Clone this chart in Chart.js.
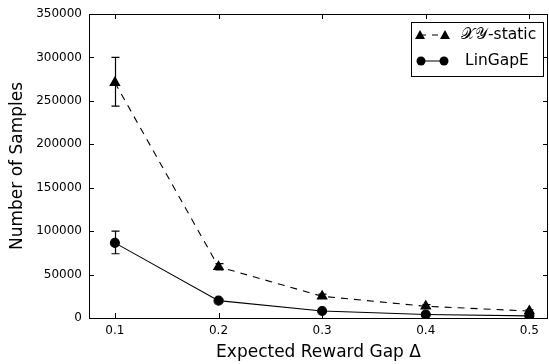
<!DOCTYPE html>
<html>
<head>
<meta charset="utf-8">
<script src="https://cdn.jsdelivr.net/npm/chart.js@4"></script>
<style>
  html, body { margin: 0; padding: 0; background: #fff; }
  #wrap { width: 549px; height: 364px; }
</style>
</head>
<body>
<div id="wrap"><canvas id="chart" width="549" height="364"></canvas></div>
<script>
// Data
const gaps = [0.1, 0.2, 0.3, 0.4, 0.5];
const staticMean = [271000, 59000, 25000, 13500, 8000];
const staticLow = [244000, 55500, 23000, 11500, 6500];
const staticHigh = [300000, 62500, 27500, 15500, 9500];
const linGapEMean = [86500, 20000, 8000, 4000, 2500];
const linGapELow = [74000, 18500, 7000, 3000, 1800];
const linGapEHigh = [100000, 21500, 9000, 5000, 3200];
const xTicks = [0.1, 0.2, 0.3, 0.4, 0.5];
const yTicks = [0, 50000, 100000, 150000, 200000, 250000, 300000, 350000];

const fontFamily = '"DejaVu Sans", sans-serif';

function toPoints(ys) {
  return gaps.map((x, i) => ({ x, y: ys[i] }));
}

// Error bars, inward ticks, frame and legend
const decorPlugin = {
  id: 'decor',
  afterDatasetsDraw(chart) {
    const { ctx, scales: { x, y } } = chart;
    const bars = [[staticLow, staticHigh], [linGapELow, linGapEHigh]];
    ctx.save();
    ctx.strokeStyle = '#000';
    ctx.lineWidth = 1.2;
    bars.forEach(([lo, hi]) => {
      gaps.forEach((g, i) => {
        const px = Math.round(x.getPixelForValue(g)) + 0.5;
        const top = y.getPixelForValue(hi[i]);
        const bot = y.getPixelForValue(lo[i]);
        ctx.beginPath();
        ctx.moveTo(px, top); ctx.lineTo(px, bot);
        ctx.moveTo(px - 4, top); ctx.lineTo(px + 4, top);
        ctx.moveTo(px - 4, bot); ctx.lineTo(px + 4, bot);
        ctx.stroke();
      });
    });
    ctx.restore();
  },
  afterDraw(chart) {
    const { ctx, chartArea: a, scales: { x, y } } = chart;
    ctx.save();
    ctx.strokeStyle = '#000';
    ctx.lineWidth = 1;
    // frame
    ctx.strokeRect(Math.round(a.left) + 0.5, Math.round(a.top) + 0.5,
      Math.round(a.right - a.left) - 1, Math.round(a.bottom - a.top));
    // inward ticks
    ctx.beginPath();
    xTicks.forEach(v => {
      const px = Math.round(x.getPixelForValue(v)) + 0.5;
      ctx.moveTo(px, a.bottom); ctx.lineTo(px, a.bottom - 5);
      ctx.moveTo(px, a.top); ctx.lineTo(px, a.top + 5);
    });
    yTicks.forEach(v => {
      const py = Math.round(y.getPixelForValue(v)) + 0.5;
      ctx.moveTo(a.left, py); ctx.lineTo(a.left + 5, py);
      ctx.moveTo(a.right, py); ctx.lineTo(a.right - 5, py);
    });
    ctx.stroke();

    // legend
    const lx = 411, ly = 22, lw = 132, lh = 54;
    ctx.fillStyle = '#fff';
    ctx.fillRect(lx, ly, lw, lh);
    ctx.strokeRect(lx + 0.5, ly + 0.5, lw, lh);
    ctx.fillStyle = '#000';
    const r1 = 35, r2 = 61;
    // row 1: dashed with triangles
    ctx.beginPath();
    ctx.setLineDash([6, 6]);
    ctx.moveTo(420, r1); ctx.lineTo(445, r1);
    ctx.stroke();
    ctx.setLineDash([]);
    [420, 445].forEach(cx => {
      ctx.beginPath();
      ctx.moveTo(cx, r1 - 5); ctx.lineTo(cx + 5, r1 + 4); ctx.lineTo(cx - 5, r1 + 4);
      ctx.closePath(); ctx.fill();
    });
    // row 2: solid with circles
    ctx.beginPath();
    ctx.moveTo(421, r2); ctx.lineTo(444, r2);
    ctx.stroke();
    [421, 444].forEach(cx => {
      ctx.beginPath();
      ctx.arc(cx, r2, 4.5, 0, Math.PI * 2); ctx.fill();
    });
    ctx.font = '15.5px ' + fontFamily;
    ctx.textBaseline = 'middle';
    ctx.textAlign = 'left';
    ctx.fillText('\u{1D4B3}\u{1D4B4}-static', 461, r1);
    ctx.fillText('LinGapE', 465, r2);
    ctx.restore();
  }
};

const ctx = document.getElementById('chart').getContext('2d');
new Chart(ctx, {
  type: 'scatter',
  data: {
    datasets: [{
      label: 'XY-static',
      data: toPoints(staticMean),
      showLine: true,
      borderColor: '#000',
      backgroundColor: '#000',
      borderWidth: 1.1,
      borderDash: [7, 6],
      pointStyle: 'triangle',
      pointRadius: 5.5,
      pointHoverRadius: 5.5
    }, {
      label: 'LinGapE',
      data: toPoints(linGapEMean),
      showLine: true,
      borderColor: '#000',
      backgroundColor: '#000',
      borderWidth: 1.1,
      pointStyle: 'circle',
      pointRadius: 4.5,
      pointHoverRadius: 4.5
    }]
  },
  options: {
    responsive: false,
    animation: false,
    events: [],
    layout: { autoPadding: false, padding: { top: 14, right: 1, left: 0, bottom: 0 } },
    plugins: {
      legend: { display: false },
      tooltip: { enabled: false }
    },
    scales: {
      x: {
        type: 'linear',
        min: 0.075,
        max: 0.518,
        afterBuildTicks: s => { s.ticks = xTicks.map(v => ({ value: v })); },
        afterFit: s => { s.height = 46; s.paddingLeft = 0; s.paddingRight = 0; },
        grid: { display: false, drawTicks: false, tickLength: 0 },
        border: { display: false },
        ticks: {
          color: '#000',
          padding: 6,
          font: { family: fontFamily, size: 12 },
          callback: v => v.toFixed(1)
        },
        title: {
          display: true,
          text: 'Expected Reward Gap \u0394',
          color: '#000',
          font: { family: fontFamily, size: 17 },
          padding: { top: 0, bottom: 1 }
        }
      },
      y: {
        min: 0,
        max: 350000,
        afterBuildTicks: s => { s.ticks = yTicks.map(v => ({ value: v })); },
        afterFit: s => { s.width = 89; s.paddingTop = 0; s.paddingBottom = 0; },
        grid: { display: false, drawTicks: false, tickLength: 0 },
        border: { display: false },
        ticks: {
          color: '#000',
          padding: 7,
          font: { family: fontFamily, size: 12 },
          callback: v => String(v)
        },
        title: {
          display: true,
          text: 'Number of Samples',
          color: '#000',
          font: { family: fontFamily, size: 17 },
          padding: { top: 7, bottom: 0 }
        }
      }
    }
  },
  plugins: [decorPlugin]
});
</script>
</body>
</html>
